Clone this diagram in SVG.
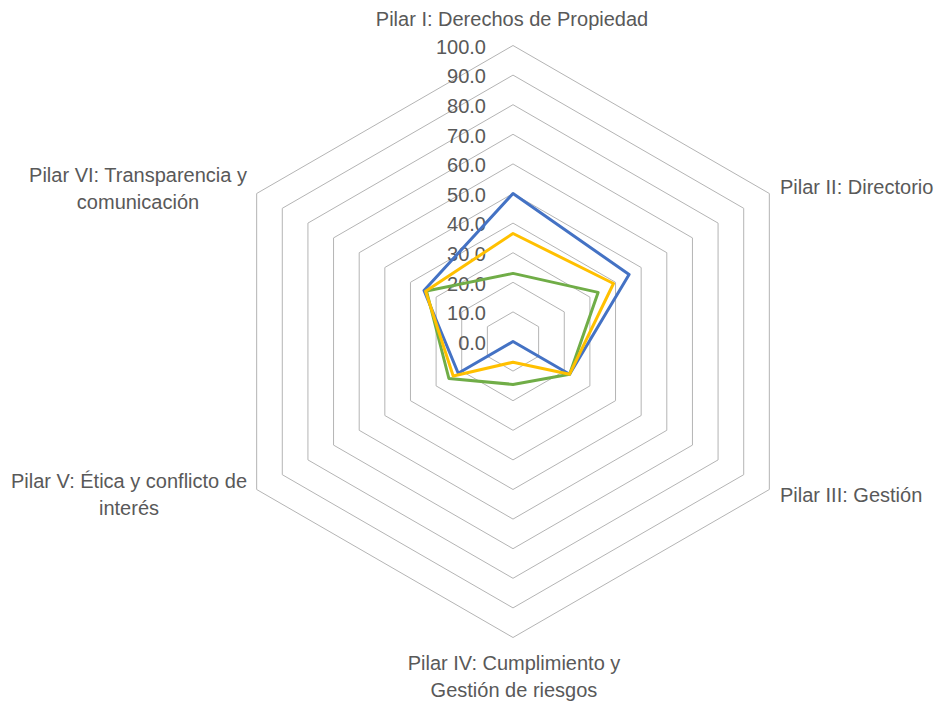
<svg xmlns="http://www.w3.org/2000/svg" width="942" height="709" viewBox="0 0 942 709">
<style>
  .grid { fill: none; stroke: #B4B4B4; stroke-width: 1; }
  .series { fill: none; stroke-width: 3; stroke-linejoin: round; }
  .s1 { stroke: #4472C4; }
  .s2 { stroke: #70AD47; }
  .s3 { stroke: #FFC000; }
  text { font-family: "Liberation Sans", Arial, sans-serif; font-size: 20px; fill: #595959; }
  .tick { text-anchor: end; }
  .mid { text-anchor: middle; }
</style>
<rect width="942" height="709" fill="#FFFFFF"/>
<g id="gridlines">
  <polygon class="grid" points="513,311.9 538.63,326.7 538.63,356.3 513,371.1 487.37,356.3 487.37,326.7"/>
  <polygon class="grid" points="513,282.3 564.27,311.9 564.27,371.1 513,400.7 461.73,371.1 461.73,311.9"/>
  <polygon class="grid" points="513,252.7 589.9,297.1 589.9,385.9 513,430.3 436.1,385.9 436.1,297.1"/>
  <polygon class="grid" points="513,223.1 615.54,282.3 615.54,400.7 513,459.9 410.46,400.7 410.46,282.3"/>
  <polygon class="grid" points="513,193.5 641.17,267.5 641.17,415.5 513,489.5 384.83,415.5 384.83,267.5"/>
  <polygon class="grid" points="513,163.9 666.81,252.7 666.81,430.3 513,519.1 359.19,430.3 359.19,252.7"/>
  <polygon class="grid" points="513,134.3 692.44,237.9 692.44,445.1 513,548.7 333.56,445.1 333.56,237.9"/>
  <polygon class="grid" points="513,104.7 718.07,223.1 718.07,459.9 513,578.3 307.93,459.9 307.93,223.1"/>
  <polygon class="grid" points="513,75.1 743.71,208.3 743.71,474.7 513,607.9 282.29,474.7 282.29,208.3"/>
  <polygon class="grid" points="513,45.5 769.34,193.5 769.34,489.5 513,637.5 256.66,489.5 256.66,193.5"/>
</g>
<g id="tick-labels">
  <text class="tick" x="486" y="349.8">0.0</text>
  <text class="tick" x="486" y="320.2">10.0</text>
  <text class="tick" x="486" y="290.6">20.0</text>
  <text class="tick" x="486" y="261">30.0</text>
  <text class="tick" x="486" y="231.4">40.0</text>
  <text class="tick" x="486" y="201.8">50.0</text>
  <text class="tick" x="486" y="172.2">60.0</text>
  <text class="tick" x="486" y="142.6">70.0</text>
  <text class="tick" x="486" y="113">80.0</text>
  <text class="tick" x="486" y="83.4">90.0</text>
  <text class="tick" x="486" y="53.8">100.0</text>
</g>
<g id="connectors">
  <polygon id="series-blue" class="series s1" points="513,193.5 629.1,274.5 569.6,374.2 513,341.5 458.2,373.2 424,290.5"/>
  <polygon id="series-green" class="series s2" points="513,273.4 598.1,292.4 569.6,374.2 513,384.4 448.9,378.5 426.5,291"/>
  <polygon id="series-yellow" class="series s3" points="513,233.5 613.5,283.5 569.6,374.2 513,362.2 453.2,376 425.6,291.2"/>
</g>
<g id="axis-1">
  <text class="mid" x="512" y="26">Pilar I: Derechos de Propiedad</text>
</g>
<g id="axis-2">
  <text x="780" y="193.5">Pilar II: Directorio</text>
</g>
<g id="axis-3">
  <text x="780" y="501.5">Pilar III: Gestión</text>
</g>
<g id="axis-4">
  <text class="mid" x="514" y="670">Pilar IV: Cumplimiento y</text>
  <text class="mid" x="514" y="696.5">Gestión de riesgos</text>
</g>
<g id="axis-5">
  <text class="mid" x="129" y="488">Pilar V: Ética y conflicto de</text>
  <text class="mid" x="129" y="514.5">interés</text>
</g>
<g id="axis-6">
  <text class="mid" x="138" y="182">Pilar VI: Transparencia y</text>
  <text class="mid" x="138" y="208.5">comunicación</text>
</g>
</svg>
